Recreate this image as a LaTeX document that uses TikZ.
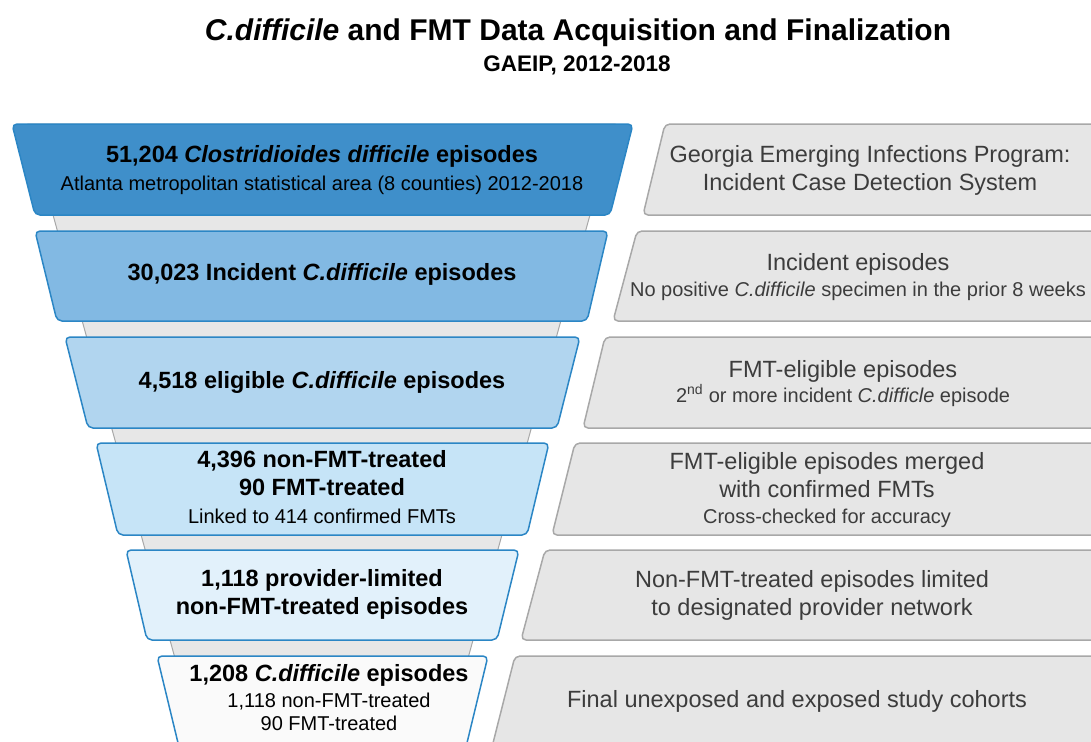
\documentclass[tikz,border=0pt]{standalone}
\usepackage{fontspec}
\setmainfont{Liberation Sans}
\usetikzlibrary{calc}

\definecolor{stageA}{HTML}{3F8FCA}
\definecolor{stageB}{HTML}{82B9E3}
\definecolor{stageC}{HTML}{B1D5EF}
\definecolor{stageD}{HTML}{C6E4F7}
\definecolor{stageE}{HTML}{E2F1FB}
\definecolor{stageF}{HTML}{FAFAFA}
\definecolor{stageLine}{HTML}{2B86C5}
\definecolor{noteFill}{HTML}{E6E6E6}
\definecolor{noteLine}{HTML}{A8A8A8}
\definecolor{noteText}{HTML}{3C3C3C}

\tikzset{
  funnel/.style={draw=noteLine, fill=noteFill!95!white, line width=1pt},
  stagebox/.style={draw=stageLine, line width=1.5pt, rounded corners=5pt},
  notebox/.style={draw=noteLine, fill=noteFill, line width=1.5pt, rounded corners=5pt},
  stagetext/.style={align=center, text=black, font=\fontsize{23.5}{28}\selectfont},
  notetext/.style={align=center, text=noteText, font=\fontsize{23.5}{28}\selectfont},
}
\newcommand{\sm}{\fontsize{20}{25}\selectfont}

\begin{document}
\begin{tikzpicture}[x=1pt,y=-1pt]
    \useasboundingbox (0,0) rectangle (1091,741);
    \clip (0,0) rectangle (1091,741);

    % title
    \node[font=\fontsize{30}{36}\selectfont\bfseries] (title) at (578,33) {\textit{C.difficile} and FMT Data Acquisition and Finalization};
    \node[font=\fontsize{22.5}{27}\selectfont\bfseries] (subtitle) at (577,65) {GAEIP, 2012-2018};

    % funnel behind the stages
    \draw[funnel] (28,124) -- (615,124) -- (440,760) -- (203,760) -- cycle;

    % stages
    \draw[stagebox, fill=stageA] (12,124) -- (633,124) -- (610,215) -- (35,215) -- cycle;
    \draw[stagebox, fill=stageB] (35,231) -- (608,231) -- (587,321) -- (57,321) -- cycle;
    \draw[stagebox, fill=stageC] (65,337) -- (580,337) -- (557,428) -- (88,428) -- cycle;
    \draw[stagebox, fill=stageD] (96,443) -- (549,443) -- (527,535) -- (118,535) -- cycle;
    \draw[stagebox, fill=stageE] (126,550) -- (519,550) -- (497,640) -- (147,640) -- cycle;
    \draw[stagebox, fill=stageF] (157,656) -- (488,656) -- (466,747) -- (179,747) -- cycle;

    % notes
    \draw[notebox] (665,124) -- (1110,124) -- (1110,215) -- (643,215) -- cycle;
    \draw[notebox] (637,231) -- (1110,231) -- (1110,321) -- (613,321) -- cycle;
    \draw[notebox] (605,337) -- (1110,337) -- (1110,428) -- (583,428) -- cycle;
    \draw[notebox] (575,443) -- (1110,443) -- (1110,535) -- (552,535) -- cycle;
    \draw[notebox] (545,550) -- (1110,550) -- (1110,640) -- (521,640) -- cycle;
    \draw[notebox] (515,656) -- (1110,656) -- (1110,747) -- (492,747) -- cycle;

    % stage labels
    \node[stagetext] (s1) at (322,170) {\textbf{51,204 \textit{Clostridioides difficile} episodes}\\{\sm Atlanta metropolitan statistical area (8 counties) 2012-2018}};
    \node[stagetext] (s2) at (322,274) {\textbf{30,023 Incident \textit{C.difficile} episodes}};
    \node[stagetext] (s3) at (322,382) {\textbf{4,518 eligible \textit{C.difficile} episodes}};
    \node[stagetext] (s4) at (322,487) {\textbf{4,396 non-FMT-treated}\\\textbf{90 FMT-treated}\\{\sm Linked to 414 confirmed FMTs}};
    \node[stagetext] (s5) at (322,594) {\textbf{1,118 provider-limited}\\\textbf{non-FMT-treated episodes}};
    \node[stagetext] (s6) at (329,698) {\textbf{1,208 \textit{C.difficile} episodes}\\[-2pt]{\sm 1,118 non-FMT-treated}\\[-5pt]{\sm 90 FMT-treated}};

    % note labels
    \node[notetext] (n1) at (870,170) {Georgia Emerging Infections Program:\\Incident Case Detection System};
    \node[notetext] (n2) at (858,277) {Incident episodes\\[-2pt]{\sm No positive \textit{C.difficile} specimen in the prior 8 weeks}};
    \node[notetext] (n3) at (843,383.5) {FMT-eligible episodes\\[-3pt]{\sm 2\textsuperscript{nd} or more incident \textit{C.difficle} episode}};
    \node[notetext] (n4) at (827,490.5) {FMT-eligible episodes merged\\with confirmed FMTs\\[-2pt]{\sm Cross-checked for accuracy}};
    \node[notetext] (n5) at (812,595) {Non-FMT-treated episodes limited\\to designated provider network};
    \node[notetext] (n6) at (797,701) {Final unexposed and exposed study cohorts};
\end{tikzpicture}
\end{document}
